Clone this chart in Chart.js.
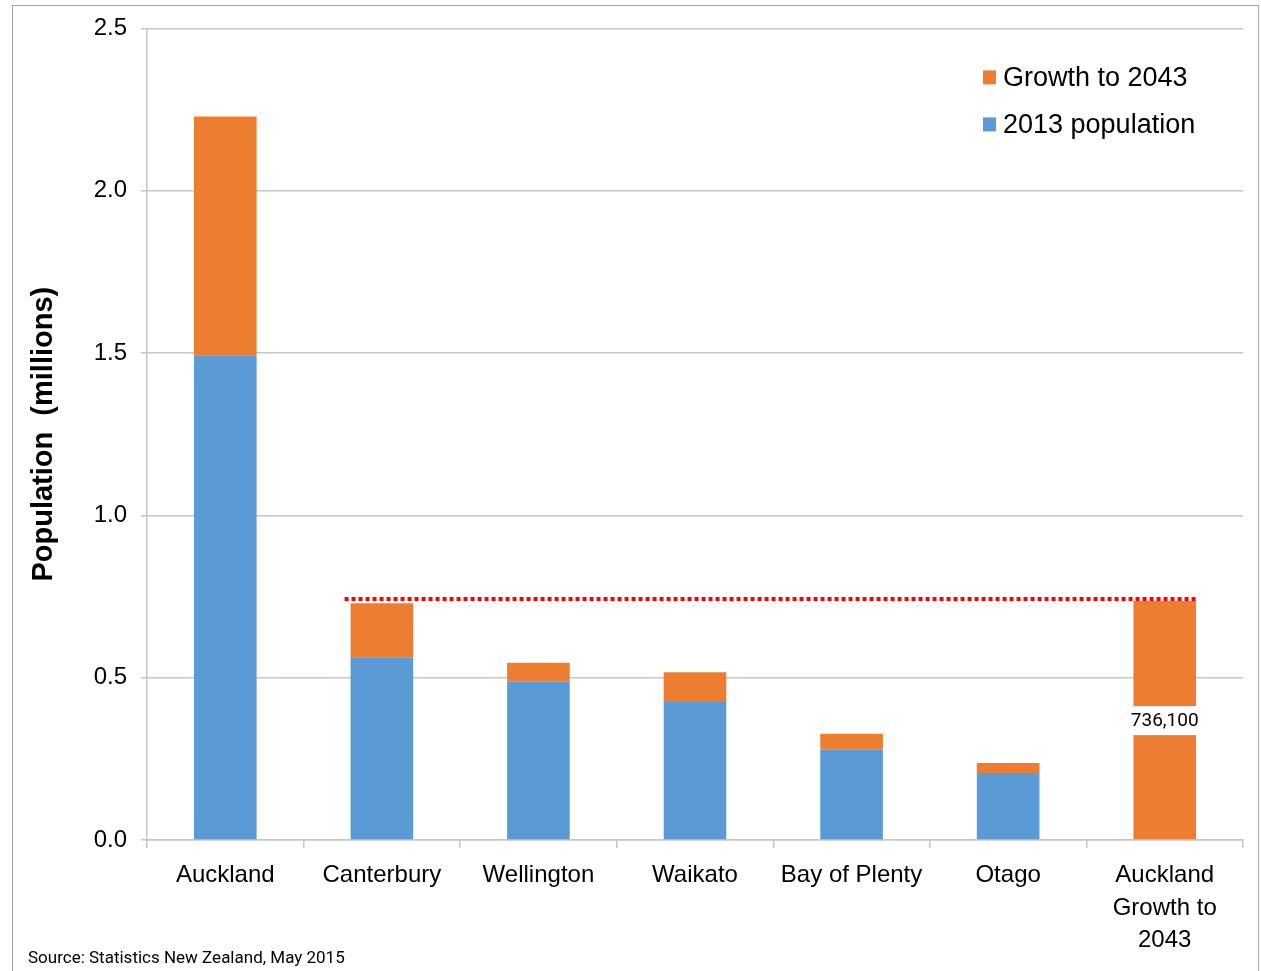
<!DOCTYPE html>
<html>
<head>
<meta charset="utf-8">
<script src="https://cdn.jsdelivr.net/npm/chart.js@4.4.1/dist/chart.umd.min.js"></script>
<style>
    body { margin: 0; background: #fff; }
    #wrap { position: relative; width: 1261px; height: 971px; overflow: hidden; }
    #frame { position: absolute; left: 12px; top: 5px; width: 1247px; height: 1000px; border: 1.5px solid #a6a6a6; box-sizing: border-box; }
    canvas { position: absolute; left: 0; top: 0; }
</style>
</head>
<body>
<div id="wrap">
    <div id="frame"></div>
    <canvas id="popChart" width="1261" height="971"></canvas>
</div>
<script>
// ====== DATA ======
const regions = ['Auckland', 'Canterbury', 'Wellington', 'Waikato', 'Bay of Plenty', 'Otago', ['Auckland', 'Growth to', '2043']];
const pop2013 = [1.493, 0.563, 0.488, 0.425, 0.278, 0.206, null];
const growth2043 = [0.736, 0.166, 0.058, 0.092, 0.049, 0.031, 0.7361];
const yTicks = [0, 0.5, 1.0, 1.5, 2.0, 2.5];
const refLineValue = 0.742;
const growthLabel = '736,100';
const sourceText = 'Source: Statistics New Zealand, May 2015';

const ORANGE = '#ED7D31';
const BLUE = '#5B9BD5';
const GRID = '#c6c6c6';
const FONT = "'Liberation Sans', Arial, sans-serif";

// ====== PLUGINS ======
const refLinePlugin = {
    id: 'refLine',
    afterDatasetsDraw(chart) {
        const meta = chart.getDatasetMeta(1);
        const first = meta.data[1];
        const last = meta.data[meta.data.length - 1];
        const y = chart.scales.y.getPixelForValue(refLineValue);
        const ctx = chart.ctx;
        ctx.save();
        ctx.strokeStyle = '#ff0000';
        ctx.lineWidth = 4;
        ctx.setLineDash([4, 3]);
        ctx.beginPath();
        ctx.moveTo(first.x - first.width / 2 - 6, y);
        ctx.lineTo(last.x + last.width / 2, y);
        ctx.stroke();
        ctx.restore();
    }
};

const barLabelPlugin = {
    id: 'barLabel',
    afterDatasetsDraw(chart) {
        const meta = chart.getDatasetMeta(1);
        const el = meta.data[meta.data.length - 1];
        const ctx = chart.ctx;
        const cy = (el.y + el.base) / 2;
        ctx.save();
        ctx.font = "19px Roboto, sans-serif";
        const w = ctx.measureText(growthLabel).width + 4;
        ctx.fillStyle = '#fff';
        ctx.fillRect(el.x - w / 2, cy - 14, w, 29);
        ctx.fillStyle = '#000';
        ctx.textAlign = 'center';
        ctx.textBaseline = 'middle';
        ctx.fillText(growthLabel, el.x, cy + 1);
        ctx.restore();
    }
};

const legendPlugin = {
    id: 'customLegend',
    afterDraw(chart) {
        const ctx = chart.ctx;
        const area = chart.chartArea;
        const items = [chart.data.datasets[1], chart.data.datasets[0]];
        ctx.save();
        ctx.font = '27px ' + FONT;
        ctx.textBaseline = 'middle';
        items.forEach((ds, i) => {
            const x = area.right - 260;
            const y = area.top + 49 + i * 47;
            ctx.fillStyle = ds.backgroundColor;
            ctx.fillRect(x, y - 7, 13, 14);
            ctx.fillStyle = '#000';
            ctx.fillText(ds.label, x + 20, y + 1);
        });
        ctx.restore();
    }
};

const sourcePlugin = {
    id: 'sourceNote',
    afterDraw(chart) {
        const ctx = chart.ctx;
        ctx.save();
        ctx.font = '17px Roboto, sans-serif';
        ctx.fillStyle = '#000';
        ctx.textBaseline = 'middle';
        ctx.fillText(sourceText, 28, 959);
        ctx.restore();
    }
};

// ====== CHART ======
const ctx = document.getElementById('popChart').getContext('2d');
const popChart = new Chart(ctx, {
    type: 'bar',
    data: {
        labels: regions,
        datasets: [
            { label: '2013 population', data: pop2013, backgroundColor: BLUE, barPercentage: 0.4, categoryPercentage: 1.0 },
            { label: 'Growth to 2043', data: growth2043, backgroundColor: ORANGE, barPercentage: 0.4, categoryPercentage: 1.0 }
        ]
    },
    options: {
        responsive: false,
        animation: false,
        layout: { padding: { left: 0, right: 18, top: 28, bottom: 0 } },
        plugins: { legend: { display: false }, tooltip: { enabled: false } },
        scales: {
            x: {
                stacked: true,
                offset: true,
                grid: { offset: true, drawOnChartArea: false, drawTicks: true, tickLength: 8, color: GRID, lineWidth: 1.5 },
                border: { display: true, color: GRID, width: 1.5 },
                ticks: { padding: 11, color: '#000', maxRotation: 0, autoSkip: false, font: { family: FONT, size: 24, lineHeight: 1.36 } },
                afterFit: s => { s.height = 131; }
            },
            y: {
                stacked: true,
                min: 0,
                max: 2.5,
                afterBuildTicks: s => { s.ticks = yTicks.map(v => ({ value: v })); },
                ticks: { padding: 14, color: '#000', font: { family: FONT, size: 24 }, callback: v => v.toFixed(1) },
                grid: { color: GRID, lineWidth: 1.5, tickLength: 6, drawTicks: true },
                border: { display: true, color: GRID, width: 1.5 },
                title: { display: true, text: 'Population  (millions)', color: '#000', font: { family: FONT, size: 29, weight: 'bold' }, padding: { top: 27, bottom: 0 } },
                afterFit: s => { s.width = 147; }
            }
        }
    },
    plugins: [refLinePlugin, barLabelPlugin, legendPlugin, sourcePlugin]
});
</script>
</body>
</html>
